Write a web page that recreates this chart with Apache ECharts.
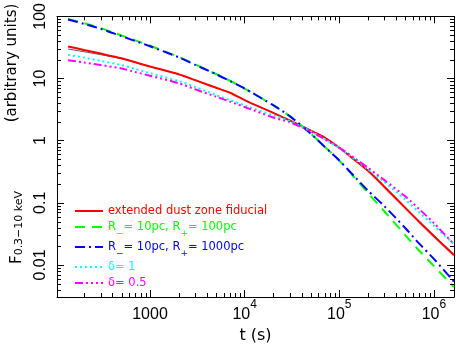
<!DOCTYPE html>
<html>
<head>
<meta charset="utf-8">
<script src="https://cdn.jsdelivr.net/npm/echarts@6/dist/echarts.min.js"></script>
<style>
  html, body { margin: 0; padding: 0; background: #fff; }
  #chart { width: 456px; height: 349px; }
</style>
</head>
<body>
<div id="chart"></div>
<script>
// tiempos (s) donde se leen las curvas
const times = [136, 200, 300, 500, 700, 1000, 2000, 3000, 5000, 7000, 1e4, 2e4, 3e4, 5e4, 7e4, 1e5, 1.5e5, 2e5, 3e5, 5e5, 7e5, 1e6, 1.63e6]

const fiducial = [32.8, 28.8, 25.2, 21.1, 18.2, 15.6, 11.7, 9.4, 7.1, 5.9, 4.5, 2.8, 2.12, 1.45, 1.12, 0.77, 0.47, 0.33, 0.18, 0.082, 0.049, 0.029, 0.0143]
const fiducialGrey = [29.8, 27.0, 24.2, 20.8, 18.1, 15.6, 11.7, 9.4, 7.1, 5.9, 4.5, 2.8, 2.12, 1.46, 1.13, 0.78, 0.48, 0.34, 0.186, 0.085, 0.051, 0.030, 0.0149]
const rOut100 = [91, 78, 64.7, 49.2, 41.1, 33.7, 22.3, 16.9, 11.8, 9.2, 6.9, 3.72, 2.48, 1.29, 0.80, 0.48, 0.24, 0.145, 0.0724, 0.030, 0.0169, 0.0096, 0.0044]
const rOut1000 = [89, 76, 63, 48, 40, 33, 22, 16.6, 11.7, 9.1, 6.9, 3.72, 2.48, 1.29, 0.80, 0.48, 0.25, 0.158, 0.088, 0.039, 0.022, 0.0125, 0.0054]
const delta1 = [24.0, 21.7, 19.2, 16.4, 14.2, 12.2, 9.1, 7.3, 5.4, 4.5, 3.69, 2.56, 2.07, 1.42, 1.06, 0.76, 0.49, 0.35, 0.215, 0.112, 0.07, 0.043, 0.0215]
const delta05 = [19.7, 18.1, 16.5, 14.5, 12.7, 11.1, 8.4, 6.7, 5.1, 4.25, 3.48, 2.36, 1.98, 1.41, 1.05, 0.77, 0.505, 0.368, 0.232, 0.126, 0.079, 0.047, 0.0215]

const seriesNames = ['extended dust zone fiducial', 'R-= 10pc, R+= 100pc', 'R-= 10pc, R+= 1000pc', 'δ= 1', 'δ= 0.5']
const legendLabels = [
  'extended dust zone fiducial',
  'R{sub|−}= 10pc, R{sub|+}= 100pc',
  'R{sub|−}= 10pc, R{sub|+}= 1000pc',
  'δ= 1',
  'δ= 0.5'
]
const seriesColors = ['#ff0000', '#00ff00', '#0000ff', '#00ffff', '#ff00ff']

const xMajorTicks = [1000, 1e4, 1e5, 1e6]
const xTickBase = ['1000', '10', '10', '10']
const xTickExp = ['', '4', '5', '6']
const yMajorTicks = [0.01, 0.1, 1, 10, 100]
const yTickLabels = ['0.01', '0.1', '1', '10', '100']
const xMinorTicks = [200, 300, 400, 500, 600, 700, 800, 900,
  2000, 3000, 4000, 5000, 6000, 7000, 8000, 9000,
  2e4, 3e4, 4e4, 5e4, 6e4, 7e4, 8e4, 9e4,
  2e5, 3e5, 4e5, 5e5, 6e5, 7e5, 8e5, 9e5]
const yMinorTicks = [0.004, 0.005, 0.006, 0.007, 0.008, 0.009,
  0.02, 0.03, 0.04, 0.05, 0.06, 0.07, 0.08, 0.09,
  0.2, 0.3, 0.4, 0.5, 0.6, 0.7, 0.8, 0.9,
  2, 3, 4, 5, 6, 7, 8, 9,
  20, 30, 40, 50, 60, 70, 80, 90]

const xMin = 104
const xMax = 1.63e6
const yMin = 0.00305
const yMax = 100

const tickFont = '"Liberation Sans", Arial, sans-serif'
const textFont = '"DejaVu Sans", sans-serif'

const findTick = (ticks, v) => ticks.findIndex(t => Math.abs(Math.log10(t) - Math.log10(v)) < 1e-6)

const pairs = arr => times.map((t, i) => [t, arr[i]])

const minorTickSeries = (values, isX) => ({
  type: 'custom',
  silent: true,
  clip: false,
  z: 5,
  data: values.map(v => isX ? [v, 1] : [1000, v]),
  renderItem: (params, api) => {
    const cs = params.coordSys
    const p = api.coord([api.value(0), api.value(1)])
    const st = { stroke: '#000', lineWidth: 1 }
    const len = 4
    if (isX) {
      const x = Math.round(p[0]) + 0.5
      return {
        type: 'group',
        children: [
          { type: 'line', shape: { x1: x, y1: cs.y + cs.height, x2: x, y2: cs.y + cs.height - len }, style: st },
          { type: 'line', shape: { x1: x, y1: cs.y, x2: x, y2: cs.y + len }, style: st }
        ]
      }
    }
    const y = Math.round(p[1]) + 0.5
    return {
      type: 'group',
      children: [
        { type: 'line', shape: { x1: cs.x, y1: y, x2: cs.x + len, y2: y }, style: st },
        { type: 'line', shape: { x1: cs.x + cs.width, y1: y, x2: cs.x + cs.width - len, y2: y }, style: st }
      ]
    }
  }
})

const axisCommon = {
  type: 'log',
  logBase: 10,
  axisLine: { show: true, lineStyle: { color: '#000', width: 1 } },
  axisTick: { show: true, inside: true, length: 7, lineStyle: { color: '#000', width: 1 } },
  splitLine: { show: false },
  minorTick: { show: false }
}

const lineSeries = (name, arr, color, type) => ({
  name: name,
  type: 'line',
  data: pairs(arr),
  symbol: 'none',
  smooth: 0.25,
  color: color,
  lineStyle: { color: color, width: 2, type: type },
  z: 3
})

const chart = echarts.init(document.getElementById('chart'))

const option = {
  animation: false,
  backgroundColor: '#fff',
  grid: { left: 57, top: 14, width: 397, height: 289, containLabel: false },
  xAxis: [
    {
      ...axisCommon,
      position: 'bottom',
      min: xMin,
      max: xMax,
      name: 't (s)',
      nameLocation: 'middle',
      nameGap: 31,
      nameTextStyle: { fontFamily: textFont, fontSize: 16, color: '#000' },
      axisLabel: {
        show: true,
        margin: 2,
        showMinLabel: false,
        showMaxLabel: false,
        formatter: v => {
          const i = findTick(xMajorTicks, v)
          if (i < 0) return ''
          return '{b|' + xTickBase[i] + '}' + (xTickExp[i] ? '{sup|' + xTickExp[i] + '}' : '')
        },
        rich: {
          b: { fontFamily: tickFont, fontSize: 16, lineHeight: 24, verticalAlign: 'bottom', color: '#000' },
          sup: { fontFamily: tickFont, fontSize: 12, lineHeight: 12, verticalAlign: 'top', color: '#000' }
        }
      }
    },
    {
      ...axisCommon,
      position: 'top',
      min: xMin,
      max: xMax,
      axisLabel: { show: false }
    }
  ],
  yAxis: [
    {
      ...axisCommon,
      position: 'left',
      min: yMin,
      max: yMax,
      axisLabel: {
        show: true,
        rotate: 90,
        margin: 8,
        showMinLabel: false,
        fontFamily: tickFont,
        fontSize: 16,
        color: '#000',
        formatter: v => {
          const i = findTick(yMajorTicks, v)
          return i < 0 ? '' : yTickLabels[i]
        }
      }
    },
    {
      ...axisCommon,
      position: 'right',
      min: yMin,
      max: yMax,
      axisLabel: { show: false }
    }
  ],
  legend: {
    orient: 'vertical',
    left: 69,
    top: 199,
    itemWidth: 28,
    itemHeight: 14,
    itemGap: 2,
    selectedMode: false,
    itemStyle: { color: 'transparent', borderColor: 'transparent', borderWidth: 0 },
    data: seriesNames.map((n, i) => ({
      name: n,
      textStyle: { color: seriesColors[i] }
    })),
    formatter: name => legendLabels[seriesNames.indexOf(name)],
    textStyle: {
      fontFamily: textFont,
      fontSize: 11.5,
      lineHeight: 14,
      rich: {
        sub: { fontFamily: textFont, fontSize: 9, lineHeight: 14, verticalAlign: 'bottom', padding: [0, 0, -4, 0] }
      }
    }
  },
  graphic: [
    {
      type: 'text',
      x: 12.5,
      y: 63,
      rotation: Math.PI / 2,
      style: {
        text: '(arbitrary units)',
        font: '15px "DejaVu Sans", sans-serif',
        fill: '#000',
        align: 'center',
        verticalAlign: 'middle'
      }
    },
    {
      type: 'text',
      x: 17,
      y: 264,
      rotation: Math.PI / 2,
      style: {
        text: '{F|F}{s|0.3−10 keV}',
        fill: '#000',
        align: 'left',
        verticalAlign: 'middle',
        rich: {
          F: { fontFamily: textFont, fontSize: 15, lineHeight: 15, verticalAlign: 'top', fill: '#000' },
          s: { fontFamily: textFont, fontSize: 11, lineHeight: 11, verticalAlign: 'bottom', fill: '#000' }
        }
      }
    }
  ],
  series: [
    minorTickSeries(xMinorTicks, true),
    minorTickSeries(yMinorTicks, false),
    {
      name: 'grey',
      type: 'line',
      data: pairs(fiducialGrey),
      symbol: 'none',
      smooth: 0.25,
      lineStyle: { color: '#555', width: 1 },
      z: 2
    },
    lineSeries(seriesNames[0], fiducial, seriesColors[0], 'solid'),
    lineSeries(seriesNames[1], rOut100, seriesColors[1], [10, 7]),
    lineSeries(seriesNames[2], rOut1000, seriesColors[2], [10, 4, 2, 4]),
    lineSeries(seriesNames[3], delta1, seriesColors[3], [2, 3]),
    lineSeries(seriesNames[4], delta05, seriesColors[4], [8, 3, 2, 3, 2, 3, 2, 3])
  ]
}

option && chart.setOption(option)
</script>
</body>
</html>
